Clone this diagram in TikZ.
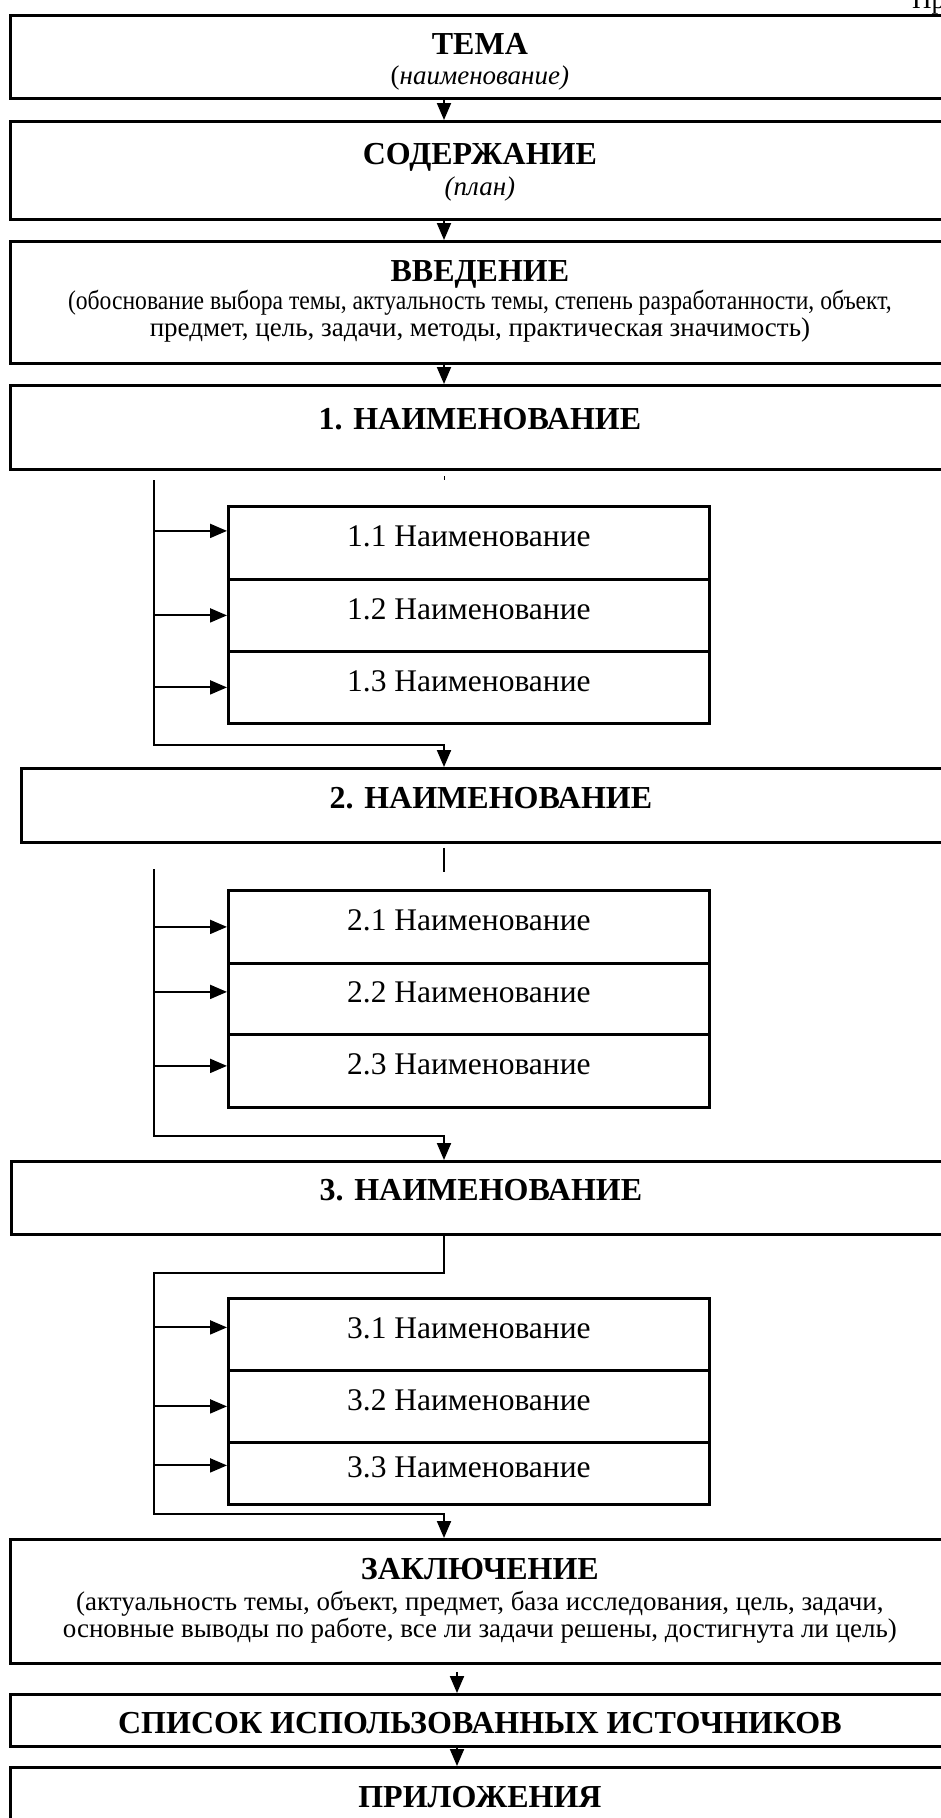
\documentclass[tikz,border=0pt]{standalone}
\usepackage{fontspec}
\usepackage{graphicx}
\setmainfont{Liberation Serif}
\usetikzlibrary{positioning,arrows.meta,calc}
\tikzset{
  frame/.style={draw,line width=2.8pt,inner sep=0pt,minimum width=939pt,anchor=north west},
  head/.style={anchor=base,inner sep=0pt,font=\fontsize{32}{34}\selectfont\bfseries},
  desc/.style={anchor=base,inner sep=0pt,font=\fontsize{27}{29}\selectfont},
  sub/.style={draw,line width=2.8pt,inner sep=0pt,minimum width=481pt,anchor=north west,
    text height=21pt,text depth=13pt,font=\fontsize{31.5}{34}\selectfont},
  arr/.style={-{Triangle[length=17pt,width=14pt]},line width=2pt},
  bus/.style={line width=2pt},
}

\begin{document}
\begin{tikzpicture}[x=1pt,y=-1pt]
\useasboundingbox (0,0) rectangle (940,1818);
\coordinate (spine) at (444,0);
\coordinate (spine2) at (457,0);
\coordinate (bus) at (154,0);
\node[desc,anchor=base west] (corner) at (912,8) {Пр};

% main chain
\node[frame,minimum height=83pt] (tema) at (9,14) {};
\node[head] (temaH) at ($(tema.north)+(0,40)$) {ТЕМА};
\node[desc] (temaD) at ($(tema.north)+(0,70)$) {(\textit{наименование)}};
\node[frame,minimum height=98pt] (plan) at (9,120) {};
\node[head] (planH) at ($(plan.north)+(0,44)$) {СОДЕРЖАНИЕ};
\node[desc] (planD) at ($(plan.north)+(0,75)$) {\textit{(план)}};
\node[frame,minimum height=122pt] (intro) at (9,240) {};
\node[head] (introH) at ($(intro.north)+(0,41)$) {ВВЕДЕНИЕ};
\node[desc] (introA) at ($(intro.north)+(0,69)$) {\scalebox{0.875}[1]{(обоснование выбора темы, актуальность темы, степень разработанности, объект,}};
\node[desc] (introB) at ($(intro.north)+(0,96)$) {предмет, цель, задачи, методы, практическая значимость)};
\node[frame,minimum height=84pt] (ch1) at (9,384) {};
\node[head] (ch1H) at ($(ch1.north)+(0,45)$) {1. НАИМЕНОВАНИЕ};
\draw[arr] (tema.south -| spine) -- (plan.north -| spine);
\draw[arr] (plan.south -| spine) -- (intro.north -| spine);
\draw[arr] (intro.south -| spine) -- (ch1.north -| spine);

% chapter 1
\node[sub,minimum height=73pt] (s11) at (227,505) {1.1 Наименование};
\node[sub,minimum height=72pt] (s12) at (227,578) {1.2 Наименование};
\node[sub,minimum height=72pt] (s13) at (227,650) {1.3 Наименование};
\node[frame,minimum height=74pt] (ch2) at (20,767) {};
\node[head] (ch2H) at ($(ch2.north)+(0,41)$) {2. НАИМЕНОВАНИЕ};
\coordinate (b1top) at (154,480);
\coordinate (b1bot) at (154,745);
\draw[line width=1pt] (spine |- 0,476) -- (spine |- 0,480);
\draw[arr] (b1top) -- (b1bot) -| (ch2.north -| spine);
\draw[arr] ($(bus |- s11.west)+(0,-12)$) -- ($(s11.west)+(0,-12)$);
\draw[arr] (bus |- s12.west) -- (s12.west);
\draw[arr] (bus |- s13.west) -- (s13.west);

% chapter 2
\node[sub,minimum height=73pt] (s21) at (227,889) {2.1 Наименование};
\node[sub,minimum height=71pt] (s22) at (227,962) {2.2 Наименование};
\node[sub,minimum height=73pt] (s23) at (227,1033) {2.3 Наименование};
\node[frame,minimum height=73pt] (ch3) at (10,1160) {};
\node[head] (ch3H) at ($(ch3.north)+(0,40)$) {3. НАИМЕНОВАНИЕ};
\coordinate (b2top) at (154,869);
\coordinate (b2bot) at (154,1136);
\draw[bus] ($(ch2.south -| spine)+(0,4)$) -- ++(0,24);
\draw[arr] (b2top) -- (b2bot) -| (ch3.north -| spine);
\draw[arr] (bus |- s21.west) -- (s21.west);
\draw[arr] ($(bus |- s22.west)+(0,-7)$) -- ($(s22.west)+(0,-7)$);
\draw[arr] ($(bus |- s23.west)+(0,-5)$) -- ($(s23.west)+(0,-5)$);

% chapter 3
\node[sub,minimum height=72pt] (s31) at (227,1297) {3.1 Наименование};
\node[sub,minimum height=72pt] (s32) at (227,1369) {3.2 Наименование};
\node[sub,minimum height=62pt] (s33) at (227,1441) {3.3 Наименование};
\node[frame,minimum height=124pt] (zakl) at (9,1538) {};
\node[head] (zaklH) at ($(zakl.north)+(0,41)$) {ЗАКЛЮЧЕНИЕ};
\node[desc] (zaklA) at ($(zakl.north)+(0,72)$) {(актуальность темы, объект, предмет, база исследования, цель, задачи,};
\node[desc] (zaklB) at ($(zakl.north)+(0,99)$) {основные выводы по работе, все ли задачи решены, достигнута ли цель)};
\coordinate (b3top) at (154,1273);
\coordinate (b3bot) at (154,1514);
\draw[arr] (ch3.south -| spine) |- (b3top) -- (b3bot) -| (zakl.north -| spine);
\draw[arr] ($(bus |- s31.west)+(0,-7)$) -- ($(s31.west)+(0,-7)$);
\draw[arr] (bus |- s32.west) -- (s32.west);
\draw[arr] ($(bus |- s33.west)+(0,-8)$) -- ($(s33.west)+(0,-8)$);

% end
\node[frame,minimum height=52pt] (src) at (9,1693) {};
\node[head] (srcH) at ($(src.north)+(0,40)$) {СПИСОК ИСПОЛЬЗОВАННЫХ ИСТОЧНИКОВ};
\node[frame,minimum height=64pt] (app) at (9,1766) {};
\node[head] (appH) at ($(app.north)+(0,41)$) {ПРИЛОЖЕНИЯ};
\draw[arr] ($(zakl.south -| spine2)+(0,7)$) -- (src.north -| spine2);
\draw[arr] (src.south -| spine2) -- (app.north -| spine2);
\end{tikzpicture}
\end{document}
